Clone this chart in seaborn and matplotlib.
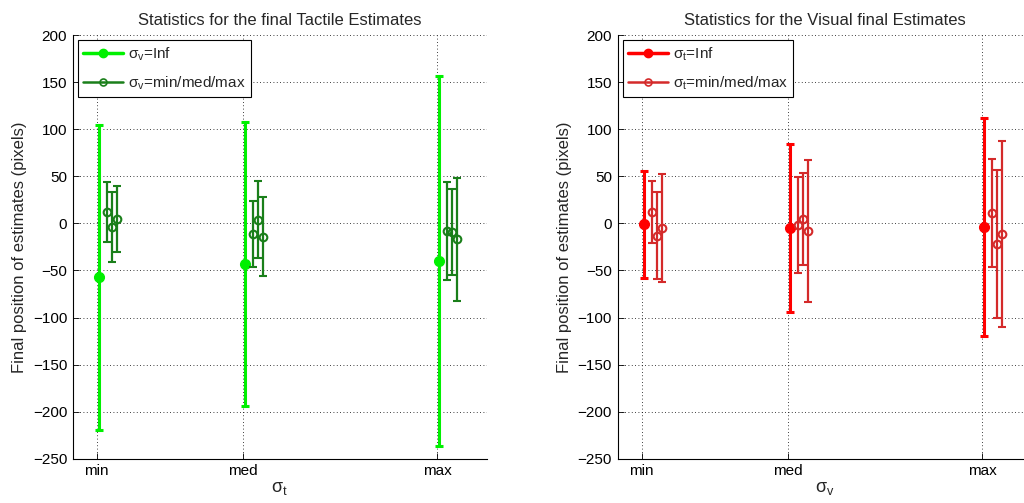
import numpy as np
import matplotlib
matplotlib.use("Agg")
import matplotlib.pyplot as plt
import seaborn as sns
from matplotlib.lines import Line2D

# ---------------- data ----------------
levels = ["min", "med", "max"]
level_pos = [1.0, 2.0, 3.327]

# Tactile estimates (left)
tact_inf_mean = [-57, -43, -40]
tact_inf_err = [162, 151, 196]
tact_v_mean = [[12, -4, 5], [-11, 4, -14], [-8, -9, -17]]
tact_v_err = [[32, 37, 35], [35, 41, 42], [52, 46, 65]]

# Visual estimates (right)
vis_inf_mean = [-1, -5, -4]
vis_inf_err = [57, 89, 116]
vis_t_mean = [[12, -13, -5], [-2, 5, -8], [11, -22, -11]]
vis_t_err = [[33, 46, 57], [51, 49, 75], [57, 79, 99]]

yticks = list(range(-250, 201, 50))

# ---------------- style ----------------
sns.set_theme(style="white")
plt.rcParams["font.family"] = ["Liberation Sans", "DejaVu Sans"]
plt.rcParams["mathtext.fontset"] = "custom"
plt.rcParams["mathtext.rm"] = "Liberation Sans"
plt.rcParams["mathtext.it"] = "Liberation Sans:italic"

fig = plt.figure(figsize=(10.24, 5.03), dpi=100)
ax1 = fig.add_axes([0.071, 0.088, 0.4046, 0.8423])
ax2 = fig.add_axes([0.6032, 0.088, 0.4046, 0.8423])

BRIGHT_OFF = 0.017
DARK_OFF = [0.068, 0.102, 0.136]


def draw(ax, inf_mean, inf_err, sub_mean, sub_err, bright, dark, sub, title, xlabel):
    xb = np.array(level_pos) + BRIGHT_OFF
    ax.errorbar(xb, inf_mean, yerr=inf_err, fmt="o", color=bright, ecolor=bright,
                elinewidth=2.2, capsize=3, capthick=2.2, markersize=7,
                markeredgecolor=bright, zorder=3)
    for i, p in enumerate(level_pos):
        for j, off in enumerate(DARK_OFF):
            ax.errorbar([p + off], [sub_mean[i][j]], yerr=[sub_err[i][j]], fmt="o",
                        color=dark, ecolor=dark, elinewidth=1.6, capsize=3,
                        capthick=1.6, markersize=5.5, markerfacecolor="none",
                        markeredgecolor=dark, markeredgewidth=1.5, zorder=4)
    ax.set_xlim(0.836, 3.669)
    ax.set_ylim(-250, 200)
    ax.set_xticks(level_pos)
    ax.set_xticklabels(levels)
    ax.set_yticks(yticks)
    ax.grid(True, linestyle=(0, (1, 3)), color="black", linewidth=0.6)
    for s in ["top", "right"]:
        ax.spines[s].set_visible(False)
    for s in ["left", "bottom"]:
        ax.spines[s].set_color("black")
        ax.spines[s].set_linewidth(0.8)
    ax.tick_params(axis="both", direction="in", length=4, width=0.6, labelsize=11,
                   colors="black", left=True, bottom=True, pad=4)
    ax.set_title(title, fontsize=12, pad=7)
    ax.set_xlabel(xlabel, fontsize=13, labelpad=1)
    ax.set_ylabel("Final position of estimates (pixels)", fontsize=12, labelpad=4)
    handles = [
        Line2D([], [], color=bright, linewidth=2.5, marker="o", markersize=6),
        Line2D([], [], color=dark, linewidth=1.8, marker="o", markersize=5,
               markerfacecolor="none", markeredgewidth=1.2),
    ]
    labels = ["σ$_{\\rm %s}$=Inf" % sub, "σ$_{\\rm %s}$=min/med/max" % sub]
    leg = ax.legend(handles, labels, loc="upper left", fontsize=11, frameon=True,
                    fancybox=False, edgecolor="black", framealpha=1,
                    handlelength=2.6, borderaxespad=0.35, labelspacing=0.75,
                    borderpad=0.35, handletextpad=0.3)
    leg.get_frame().set_linewidth(0.8)


draw(ax1, tact_inf_mean, tact_inf_err, tact_v_mean, tact_v_err,
     "#00f000", "#1a7f1a", "v", "Statistics for the final Tactile Estimates", "σ$_{\\rm t}$")
draw(ax2, vis_inf_mean, vis_inf_err, vis_t_mean, vis_t_err,
     "#ff0000", "#d42a2a", "t", "Statistics for the Visual final Estimates", "σ$_{\\rm v}$")

fig.savefig("out.png", dpi=100)
